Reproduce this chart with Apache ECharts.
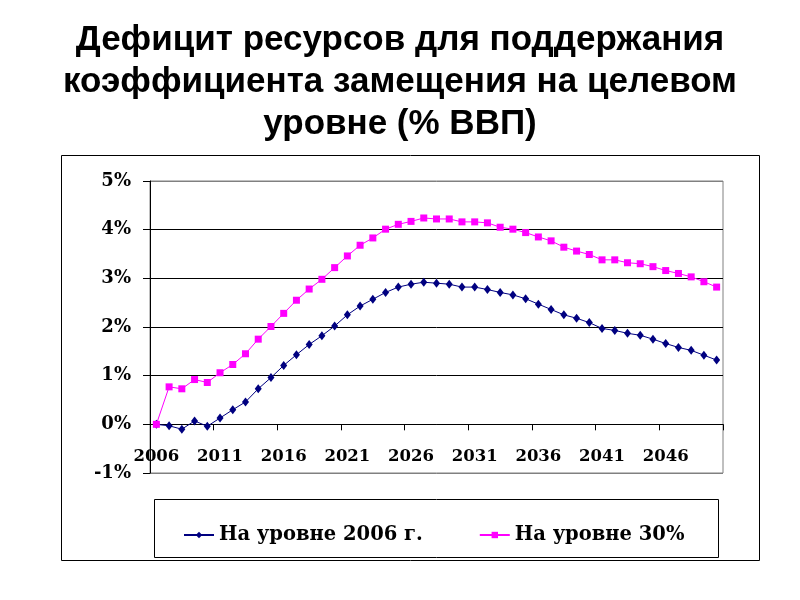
<!DOCTYPE html>
<html>
<head>
<meta charset="utf-8">
<script src="https://cdn.jsdelivr.net/npm/echarts@6/dist/echarts.min.js"></script>
<style>html,body{margin:0;padding:0;background:#fff}#c{width:800px;height:600px}</style>
</head>
<body>
<div id="c"></div>
<script>
const titleText = 'Дефицит ресурсов для поддержания\nкоэффициента замещения на целевом\nуровне (% ВВП)';
const years = ['2006','2007','2008','2009','2010','2011','2012','2013','2014','2015',
  '2016','2017','2018','2019','2020','2021','2022','2023','2024','2025',
  '2026','2027','2028','2029','2030','2031','2032','2033','2034','2035',
  '2036','2037','2038','2039','2040','2041','2042','2043','2044','2045',
  '2046','2047','2048','2049','2050'];
const seriesNames = ['На уровне 2006 г.', 'На уровне 30%'];
const level2006 = [0, -0.03, -0.10, 0.07, -0.04, 0.13, 0.30, 0.46, 0.73, 0.96,
  1.21, 1.43, 1.64, 1.82, 2.02, 2.25, 2.43, 2.57, 2.71, 2.82,
  2.88, 2.92, 2.90, 2.88, 2.82, 2.82, 2.77, 2.71, 2.66, 2.58,
  2.47, 2.36, 2.25, 2.18, 2.09, 1.97, 1.93, 1.87, 1.83, 1.75,
  1.66, 1.58, 1.52, 1.42, 1.32];
const level30 = [0, 0.77, 0.73, 0.92, 0.86, 1.06, 1.23, 1.45, 1.75, 2.01,
  2.28, 2.55, 2.78, 2.98, 3.22, 3.46, 3.68, 3.83, 4.01, 4.11,
  4.17, 4.24, 4.22, 4.22, 4.16, 4.16, 4.14, 4.05, 4.01, 3.94,
  3.85, 3.77, 3.64, 3.56, 3.49, 3.38, 3.38, 3.32, 3.30, 3.24,
  3.16, 3.10, 3.03, 2.93, 2.82];

const chart = echarts.init(document.getElementById('c'), null, {renderer: 'canvas'});
const serif = 'DejaVu Serif';
chart.setOption({
  animation: false,
  backgroundColor: '#fff',
  graphic: [
    {type: 'text', x: 400, y: 19, style: {text: titleText, x: 0, y: 0, align: 'center', verticalAlign: 'top',
      font: 'bold 35px "Liberation Sans"', lineHeight: 42, fill: '#000'}},
    {type: 'rect', shape: {x: 61.5, y: 155.5, width: 698, height: 405}, style: {fill: 'none', stroke: '#000', lineWidth: 1}, z: -1},
    {type: 'rect', shape: {x: 154.5, y: 499.5, width: 564, height: 58}, style: {fill: 'none', stroke: '#000', lineWidth: 1}, z: -1}
  ],
  legend: {
    top: 520,
    left: 178,
    itemGap: 56,
    itemWidth: 30,
    itemHeight: 8,
    textStyle: {fontFamily: serif, fontWeight: 'bold', fontSize: 19.5, color: '#000'},
    data: seriesNames
  },
  grid: {left: 150, right: 77, top: 181, bottom: 127, show: true, borderColor: '#808080', borderWidth: 1, backgroundColor: 'transparent'},
  xAxis: {
    type: 'category',
    data: years,
    boundaryGap: true,
    axisLine: {onZero: true, lineStyle: {color: '#000', width: 1}},
    axisTick: {show: true, interval: 4, length: 6, inside: false, lineStyle: {color: '#000'}},
    axisLabel: {interval: 4, margin: -25, fontFamily: serif, fontWeight: 'bold', fontSize: 16.5, color: '#000'},
    splitLine: {show: false}
  },
  yAxis: {
    type: 'value',
    min: -1, max: 5, interval: 1,
    axisLine: {show: true, lineStyle: {color: '#000', width: 1}},
    axisTick: {show: true, length: 7, lineStyle: {color: '#000'}},
    axisLabel: {formatter: '{value}%', margin: 19, fontFamily: serif, fontWeight: 'bold', fontSize: 18, color: '#000'},
    splitLine: {show: true, lineStyle: {color: ['#808080', '#000', '#000', '#000', '#000', '#000', '#808080'], width: 1}}
  },
  series: [
    {name: seriesNames[0], type: 'line', data: level2006, symbol: 'diamond', symbolSize: [7, 9], showAllSymbol: true,
      itemStyle: {color: '#000080'}, lineStyle: {color: '#000080', width: 1}},
    {name: seriesNames[1], type: 'line', data: level30, symbol: 'rect', symbolSize: 7, showAllSymbol: true,
      itemStyle: {color: '#FF00FF'}, lineStyle: {color: '#FF00FF', width: 1}}
  ]
});
</script>
</body>
</html>
